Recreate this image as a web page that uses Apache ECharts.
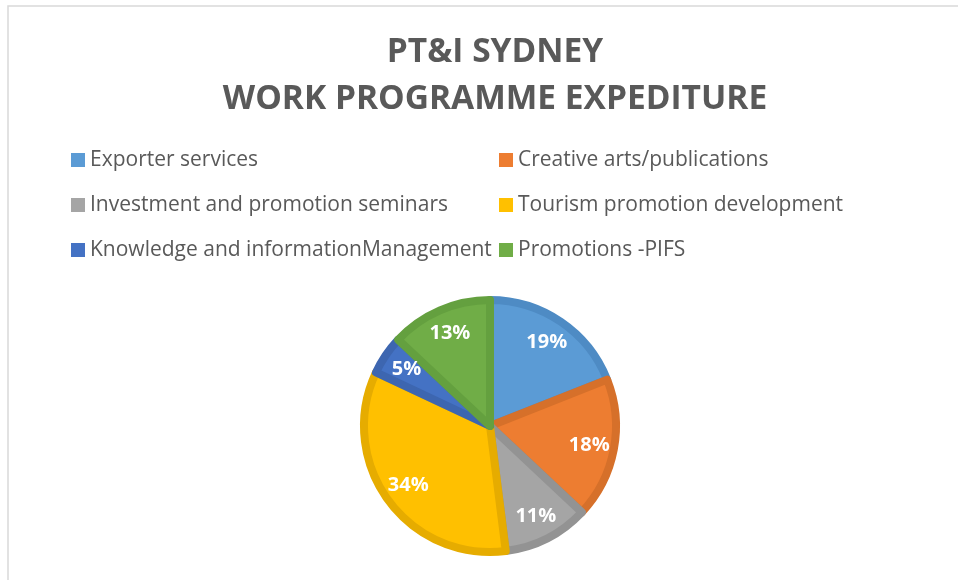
<!DOCTYPE html>
<html>
<head>
<meta charset="utf-8">
<script src="https://cdn.jsdelivr.net/npm/echarts@6/dist/echarts.min.js"></script>
<style>
  html, body { margin: 0; padding: 0; background: #fff; }
  #chart { width: 958px; height: 580px; }
</style>
</head>
<body>
<div id="chart"></div>
<script>
var categories = [
  "Exporter services",
  "Creative arts/publications",
  "Investment and promotion seminars",
  "Tourism promotion development",
  "Knowledge and informationManagement",
  "Promotions -PIFS"
];
var shares = [19, 18, 11, 34, 5, 13];
var fillColors = ["#5B9BD5", "#ED7D31", "#A5A5A5", "#FFC000", "#4472C4", "#70AD47"];
var edgeColors = ["#4E8BC4", "#D6702A", "#939393", "#E6AC00", "#3D66B0", "#64A03F"];

var chart = echarts.init(document.getElementById("chart"));

var pieData = categories.map(function (name, i) {
  return {
    name: name,
    value: shares[i],
    itemStyle: { color: fillColors[i], borderColor: edgeColors[i] }
  };
});

var legendText = { fontSize: 21, color: "#595959", fontFamily: "Open Sans", lineHeight: 24 };

var option = {
  backgroundColor: "#fff",
  animation: false,
  title: {
    text: "PT&I SYDNEY\nWORK PROGRAMME EXPEDITURE",
    left: 490,
    top: 24,
    textAlign: "center",
    textStyle: {
      fontFamily: "Open Sans",
      fontWeight: "bold",
      fontSize: 33.5,
      lineHeight: 47,
      color: "#595959"
    }
  },
  graphic: [{
    type: "rect",
    shape: { x: 8, y: 6, width: 1000, height: 700 },
    style: { fill: "none", stroke: "#d9d9d9", lineWidth: 1.5 },
    silent: true
  }],
  legend: [
    {
      data: [categories[0], categories[2], categories[4]],
      orient: "vertical",
      left: 66,
      top: 143,
      itemWidth: 14,
      itemHeight: 14,
      itemGap: 21,
      icon: "rect",
      textStyle: legendText,
      itemStyle: { borderWidth: 0 }
    },
    {
      data: [categories[1], categories[3], categories[5]],
      orient: "vertical",
      left: 494,
      top: 143,
      itemWidth: 14,
      itemHeight: 14,
      itemGap: 21,
      icon: "rect",
      textStyle: legendText,
      itemStyle: { borderWidth: 0 }
    }
  ],
  series: [
    {
      type: "pie",
      center: [490, 426],
      radius: [0, 126],
      startAngle: 90,
      clockwise: true,
      data: pieData,
      itemStyle: { borderWidth: 8 },
      label: { show: false },
      labelLine: { show: false },
      emphasis: { disabled: true }
    },
    {
      // label ring only, so the percentages sit out toward the rim
      type: "pie",
      center: [490, 426],
      radius: [68, 128],
      startAngle: 90,
      clockwise: true,
      silent: true,
      data: categories.map(function (name, i) {
        return { name: name, value: shares[i] };
      }),
      itemStyle: { color: "rgba(0,0,0,0)", borderWidth: 0 },
      label: {
        show: true,
        position: "inside",
        formatter: "{c}%",
        color: "#fff",
        fontFamily: "Open Sans",
        fontWeight: "bold",
        fontSize: 20
      },
      labelLine: { show: false },
      emphasis: { disabled: true }
    }
  ]
};

chart.setOption(option);
</script>
</body>
</html>
